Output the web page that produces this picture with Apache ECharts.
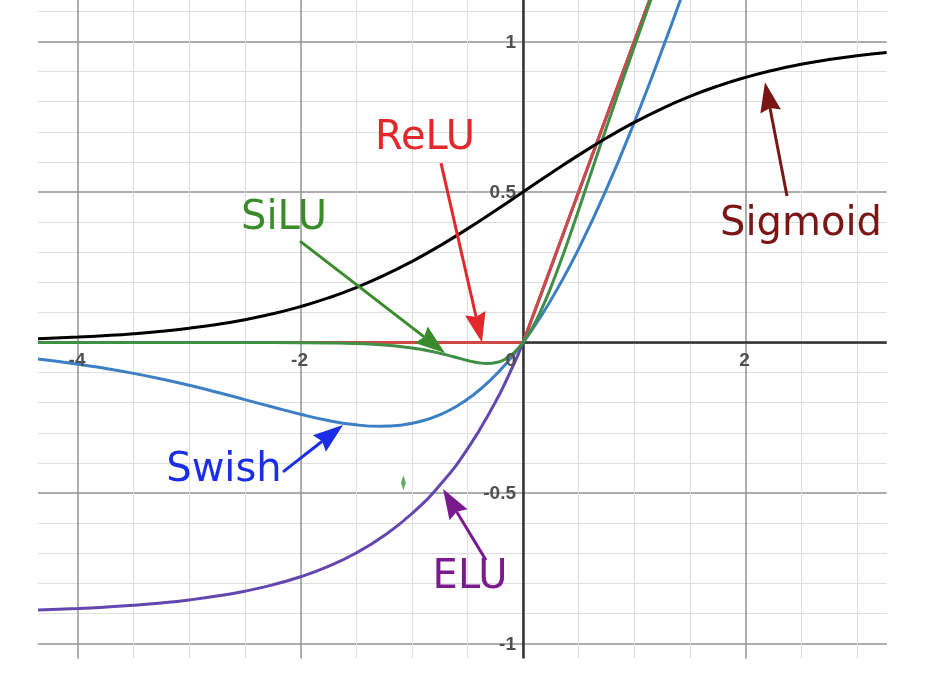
<!DOCTYPE html>
<html><head><meta charset="utf-8">
<script src="https://cdn.jsdelivr.net/npm/echarts@6/dist/echarts.min.js"></script>
<style>html,body{margin:0;padding:0;background:#fff}#c{width:932px;height:676px}</style>
</head><body><div id="c"></div>
<script>
// ---- data ----
const xs = [-4.36, -4, -3.75, -3.5, -3.25, -3, -2.75, -2.5, -2.25, -2, -1.75, -1.5, -1.25, -1, -0.75, -0.5, -0.25, 0, 0.25, 0.5, 0.75, 1, 1.25, 1.5, 1.75, 2, 2.25, 2.5, 2.75, 3, 3.27];
const sigmoidY = [0.0126, 0.0180, 0.0230, 0.0293, 0.0373, 0.0474, 0.0601, 0.0759, 0.0953, 0.1192, 0.1480, 0.1824, 0.2227, 0.2689, 0.3208, 0.3775, 0.4378, 0.5, 0.5622, 0.6225, 0.6792, 0.7311, 0.7773, 0.8176, 0.8520, 0.8808, 0.9047, 0.9241, 0.9399, 0.9526, 0.9634];

const swishX = [-4.36, -4, -3.75, -3.5, -3.25, -3, -2.75, -2.5, -2.25, -2, -1.75, -1.5, -1.278, -1.1, -0.9, -0.75, -0.6, -0.45, -0.3, -0.15, 0, 0.15, 0.3, 0.5, 0.75, 1, 1.25, 1.5, 1.75, 2];
const swishY = [-0.0550, -0.0719, -0.0862, -0.1026, -0.1213, -0.1423, -0.1652, -0.1897, -0.2145, -0.2384, -0.2591, -0.2736, -0.2785, -0.2747, -0.2601, -0.2406, -0.2126, -0.1752, -0.1277, -0.0694, 0, 0.0806, 0.1723, 0.3112, 0.5094, 0.7311, 0.9716, 1.2264, 1.4909, 1.7616];

const siluX = [-4.36, -3, -2.5, -2, -1.75, -1.5, -1.25, -1, -0.875, -0.75, -0.625, -0.5, -0.4, -0.32, -0.24, -0.16, -0.08, 0, 0.08, 0.16, 0.25, 0.375, 0.5, 0.625, 0.75, 1, 1.25, 1.5];
const siluY = [0, 0, -0.0001, -0.0007, -0.0016, -0.0037, -0.0084, -0.0180, -0.0257, -0.0356, -0.0474, -0.0596, -0.0672, -0.0696, -0.0665, -0.0552, -0.0337, 0, 0.0463, 0.1048, 0.1828, 0.3066, 0.4404, 0.5776, 0.7144, 0.9820, 1.2416, 1.4963];

const eluX = [-4.36, -4, -3.75, -3.5, -3.25, -3, -2.75, -2.5, -2.25, -2, -1.75, -1.5, -1.25, -1, -0.75, -0.5, -0.25, -0.125, 0, 0.5, 1, 1.5];
const eluY = [-0.8885, -0.8835, -0.8788, -0.8728, -0.8651, -0.8552, -0.8425, -0.8261, -0.8051, -0.7782, -0.7436, -0.6992, -0.6422, -0.5689, -0.4749, -0.3541, -0.1991, -0.1058, 0, 0.5, 1, 1.5];

const reluX = [-4.36, -2, 0, 1, 2, 3.27];
const reluY = [0, 0, 0, 1, 2, 3.27];

const strayMark = [[-1.075, -0.466]];

const xTickLabels = [-4, -2, 2];
const yTickLabels = [-1, -0.5, 0.5, 1];

// annotations (data coordinates)
const annNames = ['ReLU', 'SiLU', 'Swish', 'ELU', 'Sigmoid'];
const annTextX = [-0.881, -2.148, -2.688, -0.476, 2.499];
const annTextY = [0.676, 0.413, -0.427, -0.782, 0.392];
const annTailX = [-0.737, -2.004, -2.157, -0.333, 2.373];
const annTailY = [0.596, 0.337, -0.430, -0.723, 0.487];
const annTipX = [-0.369, -0.701, -1.618, -0.719, 2.175];
const annTipY = [0.0, -0.035, -0.274, -0.487, 0.865];

const viewX = [-4.36, 3.27];
const viewY = [-1.05, 1.14];

// ---- styles ----
const annColors = ['#e2282a', '#3a8c2a', '#1a2ee6', '#7b1a8e', '#7a1616'];
const tickFont = {fontSize: 19, fontWeight: 'bold', fill: '#505050', fontFamily: 'Liberation Sans'};

const pair = (a, b) => a.map((v, i) => [v, b[i]]);

const chart = echarts.init(document.getElementById('c'), null, {renderer: 'canvas'});
const axisCommon = {
  axisLine: {onZero: true, lineStyle: {color: '#333', width: 2.5}},
  axisTick: {show: false},
  axisLabel: {show: false},
  splitLine: {show: true, lineStyle: {color: '#929292', width: 1.5}},
  minorSplitLine: {show: true, lineStyle: {color: '#dedede', width: 1}}
};
const option = {
  animation: false,
  backgroundColor: '#fff',
  grid: {left: -144.5, right: -36, top: -109, bottom: -118, containLabel: false, outerBoundsMode: 'none'},
  xAxis: Object.assign({type: 'value', min: -6, max: 4, interval: 2, minorTick: {show: false, splitNumber: 4}}, axisCommon),
  yAxis: Object.assign({type: 'value', min: -1.5, max: 1.5, interval: 0.5, minorTick: {show: false, splitNumber: 5}}, axisCommon),
  series: [
    {name: 'ELU', type: 'line', data: pair(eluX, eluY), smooth: true, symbol: 'none', z: 2,
     lineStyle: {color: '#6446b0', width: 3}},
    {name: 'ReLU', type: 'line', data: pair(reluX, reluY), smooth: false, symbol: 'none', z: 3,
     lineStyle: {color: '#cf4a45', width: 3}},
    {name: 'Swish', type: 'line', data: pair(swishX, swishY), smooth: true, symbol: 'none', z: 4,
     lineStyle: {color: '#3d7fc4', width: 3}},
    {name: 'SiLU', type: 'line', data: pair(siluX, siluY), smooth: true, symbol: 'none', z: 5,
     lineStyle: {color: '#3f8f44', width: 3}},
    {name: 'Sigmoid', type: 'line', data: pair(xs, sigmoidY), smooth: true, symbol: 'none', z: 6,
     lineStyle: {color: '#000', width: 3}},
    {name: 'mark', type: 'scatter', data: strayMark, symbol: 'diamond', symbolSize: [5, 15], z: 7,
     itemStyle: {color: '#3a9a3a'}}
  ]
};
chart.setOption(option);

const px = (x, y) => chart.convertToPixel({gridIndex: 0}, [x, y]);
const g = [];
// white masks outside the visible plot region
const tl = px(viewX[0], viewY[1]);
const br = px(viewX[1], viewY[0]);
g.push({type: 'rect', z: 100, shape: {x: 0, y: 0, width: tl[0], height: 676}, style: {fill: '#fff'}});
g.push({type: 'rect', z: 100, shape: {x: br[0], y: 0, width: 932 - br[0], height: 676}, style: {fill: '#fff'}});
g.push({type: 'rect', z: 100, shape: {x: 0, y: br[1], width: 932, height: 676 - br[1]}, style: {fill: '#fff'}});

// tick labels
xTickLabels.forEach(v => {
  const p = px(v, 0);
  g.push({type: 'text', z: 105, style: Object.assign({text: String(v), x: p[0] - 1, y: p[1] + 9, align: 'center', verticalAlign: 'top'}, tickFont)});
});
{
  const p = px(0, 0);
  g.push({type: 'text', z: 105, style: Object.assign({text: '0', x: p[0] - 7, y: p[1] + 9, align: 'right', verticalAlign: 'top'}, tickFont)});
}
yTickLabels.forEach(v => {
  const p = px(0, v);
  g.push({type: 'text', z: 105, style: Object.assign({text: String(v), x: p[0] - 7, y: p[1] + 1, align: 'right', verticalAlign: 'middle'}, tickFont)});
});

const headLen = 30, headHalf = 10.5;
annNames.forEach((name, i) => {
  const c = annColors[i];
  const t = px(annTextX[i], annTextY[i]);
  g.push({type: 'text', z: 110, style: {text: name, x: t[0], y: t[1], fill: c, fontSize: 40,
    fontFamily: 'DejaVu Sans', align: 'center', verticalAlign: 'middle'}});
  const p0 = px(annTailX[i], annTailY[i]);
  const p1 = px(annTipX[i], annTipY[i]);
  const dx = p1[0] - p0[0], dy = p1[1] - p0[1];
  const len = Math.hypot(dx, dy);
  const ux = dx / len, uy = dy / len, nx = -uy, ny = ux;
  const bx = p1[0] - ux * headLen, by = p1[1] - uy * headLen;
  const kx = p1[0] - ux * headLen * 0.88, ky = p1[1] - uy * headLen * 0.88;
  g.push({type: 'line', z: 110, shape: {x1: p0[0], y1: p0[1], x2: kx, y2: ky},
    style: {stroke: c, lineWidth: 3}});
  g.push({type: 'polygon', z: 111, shape: {points: [[p1[0], p1[1]], [bx + nx * headHalf, by + ny * headHalf],
    [kx, ky], [bx - nx * headHalf, by - ny * headHalf]]}, style: {fill: c}});
});
chart.setOption({graphic: g});
</script></body></html>
